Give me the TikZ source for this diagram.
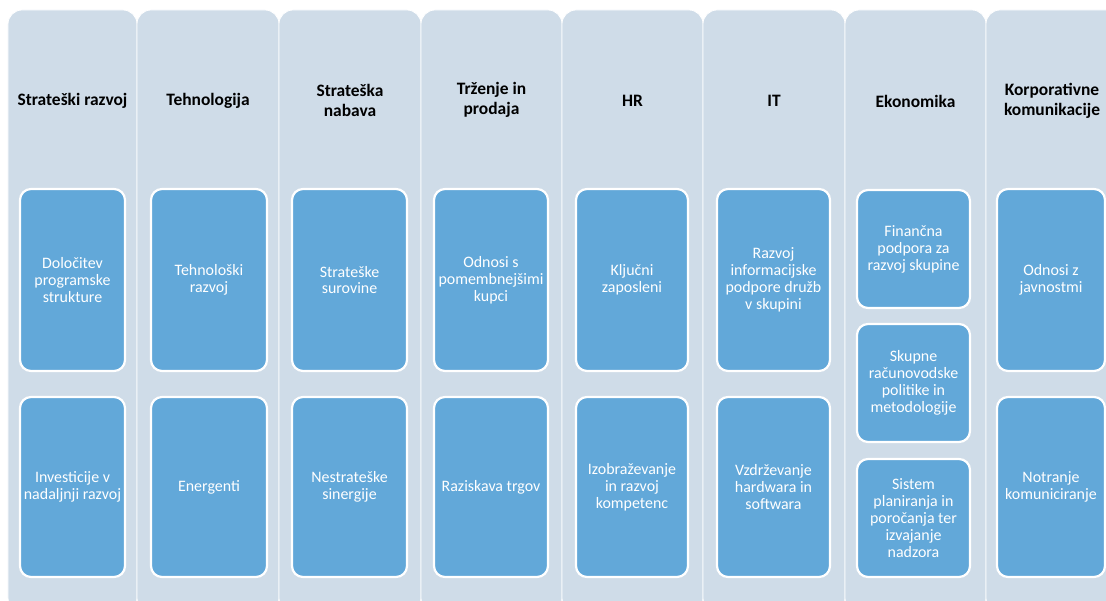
\documentclass[tikz,border=0pt]{standalone}
\usepackage{fontspec}
\setmainfont{Carlito}
\definecolor{colfill}{HTML}{CFDCE8}
\definecolor{boxfill}{HTML}{62A8D9}
\begin{document}
\begin{tikzpicture}[x=1bp,y=-1bp,
  colbg/.style={fill=colfill, draw=white, line width=0.8bp, rounded corners=14bp, minimum height=602bp, inner sep=0pt},
  item/.style={fill=boxfill, draw=white, line width=2.2bp, rounded corners=11bp, inner sep=0pt, align=center, text=white, font=\fontsize{16}{17}\selectfont},
  head/.style={font=\fontsize{17.5}{20}\selectfont\bfseries, align=center, text=black, inner sep=0pt}]
\useasboundingbox (0,0) rectangle (1106,601);
\clip (0,0) rectangle (1106,601);
\fill[white] (0,0) rectangle (1106,601);
% columns
\node[colbg, minimum width=129bp] (c1) at (72.5,311) {};
\node[colbg, minimum width=142bp] (c2) at (208,311) {};
\node[colbg, minimum width=142bp] (c3) at (350,311) {};
\node[colbg, minimum width=141bp] (c4) at (491.5,311) {};
\node[colbg, minimum width=141bp] (c5) at (632.5,311) {};
\node[colbg, minimum width=142bp] (c6) at (774,311) {};
\node[colbg, minimum width=141bp] (c7) at (915.5,311) {};
\node[colbg, minimum width=141bp] (c8) at (1056.5,311) {};
% headers
\node[head] (h1) at (72.5,101) {Strateški razvoj};
\node[head] (h2) at (208,101) {Tehnologija};
\node[head] (h3) at (350,100) {Strateška\\nabava};
\node[head] (h4) at (491.5,100) {Trženje in\\prodaja};
\node[head] (h5) at (632.5,101) {HR};
\node[head] (h6) at (774,101) {IT};
\node[head] (h7) at (915.5,101) {Ekonomika};
\node[head] (h8) at (1052,101) {Korporativne\\komunikacije};
% items
\node[item, minimum width=105bp, minimum height=182bp] (b11) at (72.5,280) {Določitev\\programske\\strukture};
\node[item, minimum width=105bp, minimum height=180bp] (b12) at (72.5,487) {Investicije v\\nadaljnji razvoj};
\node[item, minimum width=116bp, minimum height=182bp] (b21) at (209,280) {Tehnološki\\razvoj};
\node[item, minimum width=116bp, minimum height=180bp] (b22) at (209,487) {Energenti};
\node[item, minimum width=115bp, minimum height=182bp] (b31) at (349.5,280) {Strateške\\surovine};
\node[item, minimum width=115bp, minimum height=180bp] (b32) at (349.5,487) {Nestrateške\\sinergije};
\node[item, minimum width=114bp, minimum height=182bp] (b41) at (491,280) {Odnosi s\\pomembnejšimi\\kupci};
\node[item, minimum width=114bp, minimum height=180bp] (b42) at (491,487) {Raziskava trgov};
\node[item, minimum width=112bp, minimum height=182bp] (b51) at (632,280) {Ključni\\zaposleni};
\node[item, minimum width=112bp, minimum height=180bp] (b52) at (632,487) {Izobraževanje\\in razvoj\\kompetenc};
\node[item, minimum width=113bp, minimum height=182bp] (b61) at (773.5,280) {Razvoj\\informacijske\\podpore družb\\v skupini};
\node[item, minimum width=113bp, minimum height=180bp] (b62) at (773.5,487) {Vzdrževanje\\hardwara in\\softwara};
\node[item, minimum width=113bp, minimum height=118bp] (b71) at (913.5,249) {Finančna\\podpora za\\razvoj skupine};
\node[item, minimum width=113bp, minimum height=118bp] (b72) at (913.5,383) {Skupne\\računovodske\\politike in\\metodologije};
\node[item, minimum width=113bp, minimum height=118bp] (b73) at (913.5,518) {Sistem\\planiranja in\\poročanja ter\\izvajanje\\nadzora};
\node[item, minimum width=108bp, minimum height=182bp] (b81) at (1051,280) {Odnosi z\\javnostmi};
\node[item, minimum width=108bp, minimum height=180bp] (b82) at (1051,487) {Notranje\\komuniciranje};
\end{tikzpicture}
\end{document}
